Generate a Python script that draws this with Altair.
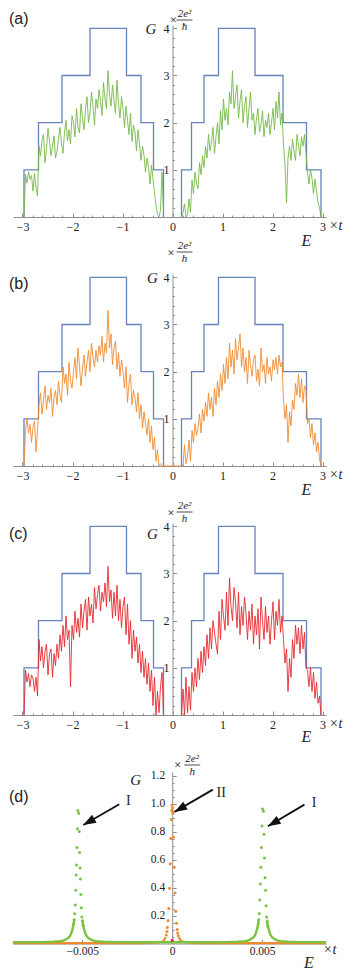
import altair as alt
import pandas as pd

SERIF = "Liberation Serif"
SANS = "Liberation Sans"
INK = "#222222"
AXIS = "#8f8f8f"
BLUE = "#6683ba"
GREEN = "#72b843"
ORANGE = "#f08a2c"
RED = "#e6262b"
DOT_GREEN = "#7cc242"

# ---------------- panels (a)-(c): energy grid ----------------
E_left = [round(-2.97 + 0.03 * i, 2) for i in range(94)]
E_right = [round(0.18 + 0.03 * i, 2) for i in range(94)]

# clean-limit step conductance
step_E_left = [-2.97, -2.97, -2.68, -2.21, -1.65, -0.92, -0.63, -0.38, -0.18]
step_G_left = [0, 1, 2, 3, 4, 3, 2, 1, 0]
step_E_right = [0.18, 0.18, 0.38, 0.63, 0.92, 1.65, 2.21, 2.68, 2.97]
step_G_right = [0, 1, 2, 3, 4, 3, 2, 1, 0]

# (a) green trace
Ga_left = [0.0, 0.9, 0.72, 0.96, 0.8, 0.88, 0.55, 0.92, 0.62, 0.45,
           1.5, 1.3, 1.62, 1.75, 1.15, 1.45, 1.88, 1.6, 1.3, 1.5,
           1.72, 1.25, 1.4, 1.65, 1.9, 1.55, 1.35, 1.8, 2.05, 1.62,
           1.85, 1.55, 2.15, 2.0, 1.7, 2.3, 1.9, 1.78, 2.4, 2.1,
           1.85, 2.3, 2.55, 2.0, 2.2, 2.65, 2.35, 1.95, 2.5, 2.3,
           2.7, 2.45, 2.15, 2.85, 2.5, 2.3, 3.1, 2.6, 2.35, 2.8,
           2.45, 2.2, 2.9, 2.4, 2.1, 2.55, 2.3, 1.9, 2.35, 2.05,
           1.75, 2.2, 1.6, 1.95, 1.8, 1.4, 1.85, 1.55, 1.2, 1.5,
           1.3, 0.95, 1.25, 1.05, 0.7, 1.1, 0.8, 0.5, 0.25, 0.05,
           0.0, 0.15, 0.95, 0.1]
Ga_right = [0.0, 0.1, 0.28, 0.0, 0.05, 0.38, 0.1, 0.78, 0.5, 0.95,
            0.72, 0.6, 1.15, 0.9, 1.3, 1.05, 1.5, 1.25, 1.75, 1.4,
            1.6, 1.9, 1.35, 1.7, 2.0, 1.55, 2.25, 1.85, 2.5, 2.05,
            2.3, 1.95, 2.65, 2.4, 3.1, 2.3, 2.55, 2.8, 2.1, 2.45,
            2.7, 2.0, 2.35, 2.55, 1.9, 2.3, 2.65, 2.05, 2.2, 1.75,
            2.1, 2.3, 1.8, 1.95, 2.25, 1.7, 2.05, 1.9, 2.2, 1.75,
            2.0, 2.3, 1.85, 2.45, 2.1, 2.65, 1.95, 2.2, 1.55, 1.1,
            0.3, 1.25, 1.5, 1.2, 1.65, 1.4, 1.2, 1.75, 1.5, 1.3,
            1.7, 1.5, 1.75, 1.35, 0.95, 0.7, 1.0, 0.82, 0.5, 0.8,
            0.55, 0.3, 0.2, 0.0]

# (b) orange trace
Gb_left = [0.0, 0.75, 1.0, 0.7, 0.88, 0.5, 0.82, 0.95, 0.3, 0.75,
           1.3, 1.55, 1.1, 1.4, 1.7, 1.2, 1.5, 1.35, 1.65, 1.05,
           1.45, 1.6, 1.3, 1.8, 1.5, 1.35, 2.1, 1.75, 1.95, 1.5,
           2.2, 1.8, 1.65, 2.0, 2.3, 1.85, 2.5, 2.1, 1.7, 2.05,
           2.35, 1.9, 2.2, 2.45, 2.0, 2.6, 2.3, 2.1, 2.45, 2.2,
           2.55, 2.35, 2.75, 2.2, 2.6, 2.4, 3.3, 2.5, 2.8, 2.15,
           2.5, 2.65, 2.05, 2.4, 1.9, 2.25, 2.0, 1.65, 2.1, 1.35,
           1.75, 1.95, 1.3, 1.6, 1.45, 1.15, 1.55, 1.0, 1.3, 0.8,
           1.15, 0.9, 0.65, 1.0, 0.5, 0.85, 0.35, 0.6, 0.1, 0.35,
           0.0, 0.05, 0.0, 0.0]
Gb_right = [0.0, 0.0, 0.45, 0.05, 0.2, 0.55, 0.1, 0.75, 0.5, 0.9,
            0.65, 0.8, 1.1, 0.7, 1.2, 0.95, 1.35, 1.05, 1.55, 1.2,
            1.45, 1.05, 1.65, 1.3, 1.8, 1.45, 1.95, 1.6, 2.15, 1.75,
            2.3, 1.85, 2.6, 2.1, 2.45, 1.95, 2.7, 2.25, 2.5, 2.8,
            2.1, 2.5, 2.0, 2.3, 1.75, 2.45, 2.15, 1.9, 2.25, 2.35,
            1.8, 2.05, 1.7, 2.5, 2.0, 2.15, 1.75, 2.3, 1.95, 2.1,
            1.8, 2.25, 2.05, 2.3, 1.95, 2.35, 2.1, 2.2, 1.4, 1.0,
            1.3, 0.5, 1.15, 0.85, 1.4, 1.2, 1.75, 1.5, 1.95, 1.45,
            1.85, 1.35, 1.7, 1.6, 0.9, 1.0, 0.6, 0.9, 0.45, 0.7,
            0.3, 0.5, 0.15, 0.0]

# (c) red trace
Gc_left = [0.0, 0.95, 0.7, 0.88, 0.6, 0.85, 0.78, 0.5, 0.8, 0.4,
           1.6, 1.15, 1.45, 1.0, 1.35, 1.5, 0.85, 1.3, 1.4, 0.8,
           1.3, 1.05, 1.5, 1.2, 1.7, 1.35, 1.9, 1.45, 2.1, 1.6,
           1.8, 0.6, 1.9, 1.6, 2.2, 1.75, 2.05, 1.65, 2.35, 1.85,
           2.2, 2.45, 1.8, 2.5, 2.1, 2.35, 1.95, 2.7, 2.25, 2.55,
           2.75, 2.2, 2.6, 2.4, 2.8, 2.3, 3.15, 2.4, 2.65, 2.05,
           2.6, 2.1, 2.75, 2.0, 2.45, 1.85, 2.3, 2.5, 1.7, 2.35,
           1.5, 2.0, 1.2, 1.8, 1.35, 1.65, 1.1, 1.5, 0.9, 1.35,
           0.8, 1.2, 0.65, 1.1, 0.5, 0.95, 0.2, 0.8, 0.0, 0.5,
           0.05, 0.6, 0.9, 0.0]
Gc_right = [0.0, 0.55, 0.0, 0.8, 0.05, 0.6, 0.1, 0.9, 0.5, 1.0,
            0.6, 1.2, 0.75, 1.35, 0.9, 1.45, 1.05, 1.7, 1.2, 1.85,
            1.4, 2.0, 1.75, 1.5, 1.3, 2.2, 1.6, 2.45, 2.1, 1.8,
            2.6, 1.9, 2.9, 2.3, 2.0, 2.7, 2.4, 1.85, 2.6, 1.7,
            2.3, 1.9, 2.5, 2.15, 1.6, 2.2, 1.8, 2.35, 1.5, 2.1,
            1.7, 2.25, 1.4, 2.5, 2.0, 1.6, 2.3, 1.75, 2.1, 1.5,
            2.0, 2.4, 1.6, 2.2, 1.9, 2.45, 1.75, 2.1, 1.6, 1.1,
            1.4, 0.5, 1.2, 0.8, 1.6, 1.2, 1.9, 1.5, 1.85, 1.3,
            1.9, 1.4, 1.75, 1.0, 0.95, 0.6, 1.0, 0.5, 0.9, 0.35,
            0.7, 0.25, 0.4, 0.0]

# ---------------- panel (d) ----------------
# green: continuous (dense) tails, three pieces
gl0_E = [-0.00885, -0.0078, -0.0072, -0.00662, -0.00622, -0.00602, -0.00582, -0.0057,
         -0.00562, -0.00557, -0.00552, -0.00548, -0.00545]
gl0_G = [0.009, 0.0095, 0.010, 0.012, 0.016, 0.022, 0.035, 0.05, 0.07, 0.09, 0.115, 0.14, 0.17]
gl1_E = [-0.00499, -0.00496, -0.00492, -0.00487, -0.00482, -0.00474, -0.00462, -0.00442,
         -0.00422, -0.00382, -0.0032, -0.002, 0.0, 0.002, 0.00304, 0.00364, 0.00404, 0.00424,
         0.00444, 0.00456, 0.00464, 0.00469, 0.00474, 0.00478, 0.00481]
gl1_G = [0.17, 0.14, 0.115, 0.09, 0.07, 0.05, 0.035, 0.022, 0.016, 0.012, 0.010, 0.009, 0.009,
         0.009, 0.010, 0.012, 0.016, 0.022, 0.035, 0.05, 0.07, 0.09, 0.115, 0.14, 0.17]
gl2_E = [0.00527, 0.0053, 0.00534, 0.00539, 0.00544, 0.00552, 0.00564, 0.00584, 0.00604,
         0.00644, 0.00704, 0.0078, 0.00855]
gl2_G = [0.17, 0.14, 0.115, 0.09, 0.07, 0.05, 0.035, 0.022, 0.016, 0.012, 0.010, 0.0095, 0.009]

# green: separated dots near the two resonances (I)
gd_E = [-0.005245, -0.005195, -0.00527, -0.00517, -0.005295, -0.005145, -0.00532, -0.00512,
        -0.00534, -0.0051, -0.00536, -0.00508, -0.00539, -0.00505, -0.00542, -0.00502,
        -0.00545, -0.00499, -0.00548, -0.00496,
        0.00502, 0.00507, 0.00499, 0.0051, 0.00496, 0.00513, 0.00493, 0.00516, 0.0049,
        0.00519, 0.00487, 0.00522, 0.00484, 0.00525, 0.00481, 0.00528, 0.00478, 0.00531]
gd_G = [0.95, 0.93, 0.82, 0.80, 0.685, 0.65, 0.56, 0.54, 0.49, 0.46, 0.38, 0.35, 0.275, 0.255,
        0.213, 0.19, 0.17, 0.16, 0.14, 0.13,
        0.96, 0.945, 0.84, 0.78, 0.685, 0.61, 0.545, 0.47, 0.425, 0.38, 0.31, 0.27, 0.215,
        0.19, 0.17, 0.15, 0.14, 0.125]

# orange: continuous tails and separated dots of the central resonance (II)
ol0_E = [-0.00885, -0.004, -0.0015, -0.0008, -0.00055, -0.00045, -0.00037]
ol0_G = [0.002, 0.002, 0.003, 0.007, 0.014, 0.025, 0.045]
ol1_E = [0.00037, 0.00045, 0.00055, 0.0008, 0.0015, 0.004, 0.00855]
ol1_G = [0.045, 0.025, 0.014, 0.007, 0.003, 0.002, 0.002]
od_E = [-0.000015, 0.00002, -0.00003, 0.000035, -0.000045, 0.00007, -0.000075, -0.00011,
        0.000115, -0.00015, 0.000155, -0.00019, 0.000195, -0.00023, 0.00024, -0.00027,
        0.00028, -0.00029, 0.0003, -0.00033, 0.00034]
od_G = [0.99, 0.97, 0.95, 0.93, 0.885, 0.76, 0.75, 0.57, 0.545, 0.395, 0.36, 0.25, 0.23,
        0.165, 0.145, 0.115, 0.1, 0.085, 0.075, 0.06, 0.055]

# red dot
rd_E = [0.0]
rd_G = [0.024]

# arrows and their labels
arrow_tail_E = [-0.00294, 0.00226, 0.00735]
arrow_tail_G = [0.994, 1.099, 0.992]
arrow_tip_E = [-0.00494, 0.000128, 0.00532]
arrow_tip_G = [0.846, 0.940, 0.838]
arrow_text = ["I", "II", "I"]
arrow_text_E = [-0.00244, 0.00272, 0.00789]
arrow_text_G = [1.017, 1.073, 1.004]

# ---------------- layout constants ----------------
W = 313
H = 192
HD = 171.5
X_DOM = [-3.19, 3.07]
Y_DOM = [0, 4.07]
XD_DOM = [-0.00885, 0.00855]
YD_DOM = [0, 1.225]
X0 = W * (0 - X_DOM[0]) / (X_DOM[1] - X_DOM[0])
X0D = W * (0 - XD_DOM[0]) / (XD_DOM[1] - XD_DOM[0])

x_major = [-3, -2, -1, 0, 1, 2, 3]
x_minor = [round(-3 + 0.2 * k, 1) for k in range(31) if k % 5]
y_major = [1, 2, 3, 4]
y_minor = [round(0.2 * k, 1) for k in range(1, 20) if k % 5]
xd_major = [-0.005, 0, 0.005]
xd_minor = [round(0.001 * k, 3) for k in range(-8, 9) if k % 5]
yd_major = [0.2, 0.4, 0.6, 0.8, 1.0, 1.2]
yd_minor = [round(0.05 * k, 2) for k in range(1, 25) if k % 4]

ONE = pd.DataFrame({"k": [0]})


def txt(s, x, y, size=13, font=SERIF, style="normal", align="center", baseline="alphabetic"):
    return alt.Chart(ONE).mark_text(text=s, font=font, fontSize=size, fontStyle=style,
                                    align=align, baseline=baseline, color=INK).encode(
        x=alt.value(x), y=alt.value(y))


def hbar(x1, x2, y):
    return alt.Chart(ONE).mark_rule(color=INK, strokeWidth=0.8).encode(
        x=alt.value(x1), x2=alt.value(x2), y=alt.value(y))


def unit_block(x0, base, times_dx, times_y, num_dx, denom):
    return [txt("×", x0 + times_dx, times_y, size=13, baseline="middle"),
            txt("2e²", x0 + num_dx, base, size=11, style="italic"),
            hbar(x0 + num_dx - 8, x0 + num_dx + 8, base + 3),
            txt(denom, x0 + num_dx, base + 13, size=11, style="italic")]


def make_axes(h, x0, xmaj, xmin, ymaj, ymin, xfmt, yfmt, fs, xpad, ypad, ex, ey, gx, gy):
    common = dict(grid=False, tickColor=AXIS, tickWidth=1, domainColor=AXIS, domainWidth=1)
    xa = alt.Axis(orient="top", offset=-h, values=xmaj, format=xfmt, tickSize=4,
                  labelBaseline="top", labelAlign="center", labelPadding=xpad, labelFont=SERIF,
                  labelFontSize=fs, labelColor=INK, labelFlush=False, labelOverlap=False,
                  title="E", titleX=ex, titleY=ey, titleFont=SERIF, titleFontStyle="italic",
                  titleFontWeight="normal", titleFontSize=16, titleColor=INK, titleAlign="center",
                  titleBaseline="alphabetic", titleAngle=0, **common)
    xb = alt.Axis(orient="top", offset=-h, values=xmin, tickSize=2, labels=False, domain=False,
                  title=None, grid=False, tickColor=AXIS, tickWidth=1)
    ya = alt.Axis(orient="right", offset=-(W - x0), values=ymaj, format=yfmt, tickSize=4,
                  labelAlign="right", labelBaseline="middle", labelPadding=ypad, labelFont=SERIF,
                  labelFontSize=fs, labelColor=INK, labelFlush=False, labelOverlap=False,
                  title="G", titleX=gx, titleY=gy, titleFont=SERIF, titleFontStyle="italic",
                  titleFontWeight="normal", titleFontSize=15, titleColor=INK, titleAlign="center",
                  titleBaseline="alphabetic", titleAngle=0, **common)
    yb = alt.Axis(orient="right", offset=-(W - x0), values=ymin, tickSize=2, labels=False,
                  domain=False, title=None, grid=False, tickColor=AXIS, tickWidth=1)
    return xa, xb, ya, yb


def noise_panel(tag, tag_y, Gl, Gr, color, joined, base, times_dx, times_y, denom, gx, gy, ey):
    xa, xb, ya, yb = make_axes(H, X0, x_major, x_minor, y_major, y_minor, "d", "d", 12,
                               -8.5, -7.5, 293, ey, gx, gy)
    xs = alt.Scale(domain=X_DOM, nice=False, zero=False)
    ys = alt.Scale(domain=Y_DOM, nice=False, zero=False)
    step_df = pd.DataFrame({"E": step_E_left + step_E_right,
                            "G": step_G_left + step_G_right,
                            "half": ["L"] * len(step_E_left) + ["R"] * len(step_E_right),
                            "i": list(range(len(step_E_left) + len(step_E_right)))})
    step = alt.Chart(step_df).mark_line(interpolate="step-after", color=BLUE, strokeWidth=1.3).encode(
        x=alt.X("E:Q", scale=xs, axis=xa), y=alt.Y("G:Q", scale=ys, axis=ya),
        detail="half:N", order="i:Q")
    n_df = pd.DataFrame({"E": E_left + E_right, "G": Gl + Gr,
                         "half": (["A"] * 188) if joined else (["L"] * 94 + ["R"] * 94),
                         "i": list(range(188))})
    noise = alt.Chart(n_df).mark_line(color=color, strokeWidth=1.0, opacity=0.88).encode(
        x=alt.X("E:Q", scale=xs, axis=xb), y=alt.Y("G:Q", scale=ys, axis=yb),
        detail="half:N", order="i:Q")
    layers = [step, noise,
              txt(tag, -4, tag_y, size=16, font=SANS, align="left", baseline="middle"),
              txt("×t", W + 3, H + 13, size=14, style="italic", align="left")]
    layers += unit_block(X0, base, times_dx, times_y, 12, denom)
    return alt.layer(*layers).resolve_axis(x="independent", y="independent").properties(
        width=W, height=H)


pa = noise_panel("(a)", -6, Ga_left, Ga_right, GREEN, False, -8, 1, -5, "ħ", -22, 8, 28)
pb = noise_panel("(b)", 10, Gb_left, Gb_right, ORANGE, True, -25, -1.5, -21, "h", -20.5, 8, 28)
pc = noise_panel("(c)", 11, Gc_left, Gc_right, RED, False, -14, -1.5, -10, "h", -20.5, 15, 26)

# ---------------- panel (d) ----------------
xa, xb, ya, yb = make_axes(HD, X0D, xd_major, xd_minor, yd_major, yd_minor, ".3~f", ".1f", 11.5,
                           -6, -11.5, 295.5, 24, -37, 12)
xsd = alt.Scale(domain=XD_DOM, nice=False, zero=False)
ysd = alt.Scale(domain=YD_DOM, nice=False, zero=False)

ol_df = pd.DataFrame({"E": ol0_E + ol1_E, "G": ol0_G + ol1_G,
                      "seg": [0] * len(ol0_E) + [1] * len(ol1_E)})
gl_df = pd.DataFrame({"E": gl0_E + gl1_E + gl2_E, "G": gl0_G + gl1_G + gl2_G,
                      "seg": [0] * len(gl0_E) + [1] * len(gl1_E) + [2] * len(gl2_E)})
od_df = pd.DataFrame({"E": od_E, "G": od_G})
gd_df = pd.DataFrame({"E": gd_E, "G": gd_G})
rd_df = pd.DataFrame({"E": rd_E, "G": rd_G})
ar_df = pd.DataFrame({"E": arrow_tail_E, "G": arrow_tail_G, "E2": arrow_tip_E, "G2": arrow_tip_G})
at_df = pd.DataFrame({"E": arrow_text_E, "G": arrow_text_G, "t": arrow_text})

o_line = alt.Chart(ol_df).mark_line(color=ORANGE, strokeWidth=2.2).encode(
    x=alt.X("E:Q", scale=xsd, axis=xa), y=alt.Y("G:Q", scale=ysd, axis=ya), detail="seg:N")
g_line = alt.Chart(gl_df).mark_line(color=DOT_GREEN, strokeWidth=2.4).encode(
    x=alt.X("E:Q", scale=xsd, axis=xb), y=alt.Y("G:Q", scale=ysd, axis=yb), detail="seg:N")
o_dots = alt.Chart(od_df).mark_circle(color=ORANGE, size=9, opacity=1).encode(
    x=alt.X("E:Q", scale=xsd, axis=None), y=alt.Y("G:Q", scale=ysd, axis=None))
g_dots = alt.Chart(gd_df).mark_circle(color=DOT_GREEN, size=9, opacity=1).encode(
    x=alt.X("E:Q", scale=xsd, axis=None), y=alt.Y("G:Q", scale=ysd, axis=None))
r_dot = alt.Chart(rd_df).mark_circle(color=RED, size=9, opacity=1).encode(
    x=alt.X("E:Q", scale=xsd, axis=None), y=alt.Y("G:Q", scale=ysd, axis=None))
arrows = alt.Chart(ar_df).mark_rule(color="#111111", strokeWidth=1.8).encode(
    x=alt.X("E:Q", scale=xsd, axis=None), y=alt.Y("G:Q", scale=ysd, axis=None),
    x2="E2:Q", y2="G2:Q")
heads = alt.Chart(ar_df).mark_point(shape="M0,0 L0.36,1 L-0.36,1 Z", filled=True, color="#111111",
                                    opacity=1, size=640, angle=240).encode(
    x=alt.X("E2:Q", scale=xsd, axis=None), y=alt.Y("G2:Q", scale=ysd, axis=None))
labels = alt.Chart(at_df).mark_text(font=SERIF, fontSize=14, color=INK, baseline="middle").encode(
    x=alt.X("E:Q", scale=xsd, axis=None), y=alt.Y("G:Q", scale=ysd, axis=None), text="t:N")

d_layers = [o_line, g_line, o_dots, g_dots, r_dot, arrows, heads, labels,
            txt("(d)", -4, 25, size=16, font=SANS, align="left", baseline="middle"),
            txt("×t", W - 3, HD + 10, size=14, style="italic", align="left")]
d_layers += unit_block(X0D, -10, 5.5, -7, 20, "h")
pd_ = alt.layer(*d_layers).resolve_axis(x="independent", y="independent").properties(
    width=W, height=HD)

chart = alt.vconcat(pa, pb, pc, pd_, spacing=57, bounds="flush").properties(
    padding={"left": 0, "top": 0, "right": 0, "bottom": 0}
).configure_view(stroke=None)

chart.save("out.html", embed_options={"renderer": "svg", "actions": False})
